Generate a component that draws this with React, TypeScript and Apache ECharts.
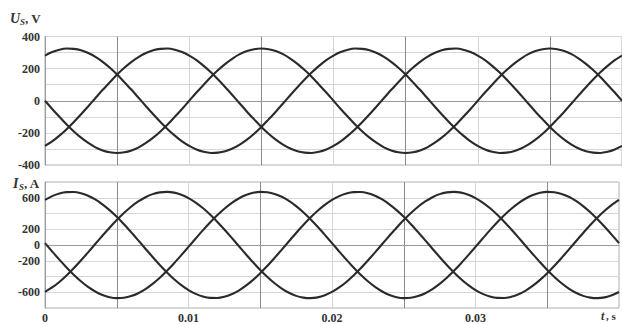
import React, { useEffect, useRef } from 'react';
import * as echarts from 'echarts';

// time samples, s
const timeS = [
  0, 0.0005, 0.001, 0.0015, 0.002, 0.0025, 0.003, 0.0035, 0.004, 0.0045,
  0.005, 0.0055, 0.006, 0.0065, 0.007, 0.0075, 0.008, 0.0085, 0.009, 0.0095,
  0.01, 0.0105, 0.011, 0.0115, 0.012, 0.0125, 0.013, 0.0135, 0.014, 0.0145,
  0.015, 0.0155, 0.016, 0.0165, 0.017, 0.0175, 0.018, 0.0185, 0.019, 0.0195,
  0.02, 0.0205, 0.021, 0.0215, 0.022, 0.0225, 0.023, 0.0235, 0.024, 0.0245,
  0.025, 0.0255, 0.026, 0.0265, 0.027, 0.0275, 0.028, 0.0285, 0.029, 0.0295,
  0.03, 0.0305, 0.031, 0.0315, 0.032, 0.0325, 0.033, 0.0335, 0.034, 0.0345,
  0.035, 0.0355, 0.036, 0.0365, 0.037, 0.0375, 0.038, 0.0385, 0.039, 0.0395,
  0.04,
];

// phase voltages, V
const voltageA = [
  0, -51, -100, -148, -191, -230, -263, -290, -309, -321, -325, -321, -309, -290, -263, -230, -191, -148, -100, -51,
  0, 51, 100, 148, 191, 230, 263, 290, 309, 321, 325, 321, 309, 290, 263, 230, 191, 148, 100, 51,
  0, -51, -100, -148, -191, -230, -263, -290, -309, -321, -325, -321, -309, -290, -263, -230, -191, -148, -100, -51,
  0, 51, 100, 148, 191, 230, 263, 290, 309, 321, 325, 321, 309, 290, 263, 230, 191, 148, 100, 51,
  0,
];
const voltageB = [
  281, 303, 318, 325, 323, 314, 297, 273, 242, 205, 163, 116, 68, 17, -34, -84, -132, -177, -217, -253,
  -281, -303, -318, -325, -323, -314, -297, -273, -242, -205, -163, -116, -68, -17, 34, 84, 132, 177, 217, 253,
  281, 303, 318, 325, 323, 314, 297, 273, 242, 205, 163, 116, 68, 17, -34, -84, -132, -177, -217, -253,
  -281, -303, -318, -325, -323, -314, -297, -273, -242, -205, -163, -116, -68, -17, 34, 84, 132, 177, 217, 253,
  281,
];
const voltageC = [
  -281, -253, -217, -177, -132, -84, -34, 17, 68, 116, 163, 205, 242, 273, 297, 314, 323, 325, 318, 303,
  281, 253, 217, 177, 132, 84, 34, -17, -68, -116, -163, -205, -242, -273, -297, -314, -323, -325, -318, -303,
  -281, -253, -217, -177, -132, -84, -34, 17, 68, 116, 163, 205, 242, 273, 297, 314, 323, 325, 318, 303,
  281, 253, 217, 177, 132, 84, 34, -17, -68, -116, -163, -205, -242, -273, -297, -314, -323, -325, -318, -303,
  -281,
];

// phase currents, A
const currentA = [
  24, -82, -186, -285, -377, -460, -532, -590, -634, -663, -675, -670, -649, -612, -560, -494, -416, -327, -231, -129,
  -24, 82, 186, 285, 377, 460, 532, 590, 634, 663, 675, 670, 649, 612, 560, 494, 416, 327, 231, 129,
  24, -82, -186, -285, -377, -460, -532, -590, -634, -663, -675, -670, -649, -612, -560, -494, -416, -327, -231, -129,
  -24, 82, 186, 285, 377, 460, 532, 590, 634, 663, 675, 670, 649, 612, 560, 494, 416, 327, 231, 129,
  24,
];
const currentB = [
  572, 621, 655, 672, 673, 658, 626, 579, 517, 443, 358, 264, 163, 59, -47, -152, -253, -348, -434, -509,
  -572, -621, -655, -672, -673, -658, -626, -579, -517, -443, -358, -264, -163, -59, 47, 152, 253, 348, 434, 509,
  572, 621, 655, 672, 673, 658, 626, 579, 517, 443, 358, 264, 163, 59, -47, -152, -253, -348, -434, -509,
  -572, -621, -655, -672, -673, -658, -626, -579, -517, -443, -358, -264, -163, -59, 47, 152, 253, 348, 434, 509,
  572,
];
const currentC = [
  -596, -539, -469, -387, -296, -197, -94, 12, 117, 220, 317, 406, 486, 553, 607, 646, 668, 675, 665, 638,
  596, 539, 469, 387, 296, 197, 94, -12, -117, -220, -317, -406, -486, -553, -607, -646, -668, -675, -665, -638,
  -596, -539, -469, -387, -296, -197, -94, 12, 117, 220, 317, 406, 486, 553, 607, 646, 668, 675, 665, 638,
  596, 539, 469, 387, 296, 197, 94, -12, -117, -220, -317, -406, -486, -553, -607, -646, -668, -675, -665, -638,
  -596,
];

const voltageTicks = [400, 200, 0, -200, -400];
const currentTicks = [600, 200, 0, -200, -600];
const timeTicks = [0, 0.01, 0.02, 0.03];

const FONT = "'Liberation Serif', 'Times New Roman', serif";
const INK = '#2a2a2a';

export default function App() {
  const ref = useRef<HTMLDivElement>(null);

  useEffect(() => {
    if (!ref.current) return;
    const chart = echarts.init(ref.current, undefined, { renderer: 'svg' });

    const pairs = (ys: number[]) => timeS.map((t, i) => [t, ys[i]]);
    const lineSeries = (ys: number[], idx: number) => ({
      type: 'line',
      xAxisIndex: idx,
      yAxisIndex: idx,
      data: pairs(ys),
      smooth: 0.3,
      showSymbol: false,
      symbol: 'none',
      lineStyle: { color: INK, width: 2.1 },
    });

    const xAxisBase = (idx: number, showLabels: boolean) => ({
      type: 'value',
      gridIndex: idx,
      min: 0,
      max: 0.04,
      interval: 0.005,
      axisLine: { show: true, lineStyle: { color: '#9a9a9a', width: 1 } },
      axisTick: { show: false },
      splitLine: { show: true, lineStyle: { color: ['#d6d6d6', '#8a8a8a'], width: 1 } },
      axisLabel: {
        show: showLabels,
        margin: 4,
        fontFamily: FONT,
        fontWeight: 'bold',
        fontSize: 12,
        color: '#333',
        formatter: (v: number) => {
          const hit = timeTicks.find((t) => Math.abs(t - v) < 1e-9);
          return hit === undefined ? '' : String(hit);
        },
      },
    });

    const yAxisBase = (idx: number, lim: number, step: number, ticks: number[]) => ({
      type: 'value',
      gridIndex: idx,
      min: -lim,
      max: lim,
      interval: step,
      axisLine: { show: true, lineStyle: { color: '#9a9a9a', width: 1 } },
      axisTick: { show: false },
      splitLine: { show: true, lineStyle: { color: '#d6d6d6', width: 1 } },
      axisLabel: {
        margin: 5,
        fontFamily: FONT,
        fontWeight: 'bold',
        fontSize: 12,
        color: '#333',
        formatter: (v: number) => (ticks.includes(v) ? String(v) : ''),
      },
    });

    const label = (x: number, y: number, text: string, size: number, italic: boolean) => ({
      type: 'text',
      x,
      y,
      style: {
        text,
        fontFamily: FONT,
        fontSize: size,
        fontWeight: 'bold',
        fontStyle: italic ? 'italic' : 'normal',
        fill: '#333',
        verticalAlign: 'middle',
        align: 'left',
      },
    });

    chart.setOption({
      animation: false,
      backgroundColor: '#ffffff',
      grid: [
        { left: 45, right: -9, top: 36.5, height: 128.5, show: true, borderColor: '#b0b0b0', borderWidth: 1 },
        { left: 45, right: -9, top: 182, height: 128, show: true, borderColor: '#b0b0b0', borderWidth: 1 },
      ],
      xAxis: [xAxisBase(0, false), xAxisBase(1, true)],
      yAxis: [
        yAxisBase(0, 400, 100, voltageTicks),
        yAxisBase(1, 800, 200, currentTicks),
      ],
      series: [
        lineSeries(voltageA, 0),
        lineSeries(voltageB, 0),
        lineSeries(voltageC, 0),
        lineSeries(currentA, 1),
        lineSeries(currentB, 1),
        lineSeries(currentC, 1),
      ],
      graphic: [
        label(10, 18, 'U', 14, true),
        label(20, 22, 'S', 9, true),
        label(25, 18, ', V', 13, false),
        label(13, 183, 'I', 14, true),
        label(19, 187, 'S', 9, true),
        label(24, 183, ', A', 13, false),
        label(601, 316, 't', 12, true),
        label(606, 316, ', s', 11, false),
      ],
    });

    return () => chart.dispose();
  }, []);

  return (
    <div
      ref={ref}
      style={{ position: 'absolute', left: 0, top: 0, width: 622, height: 324 }}
    />
  );
}
